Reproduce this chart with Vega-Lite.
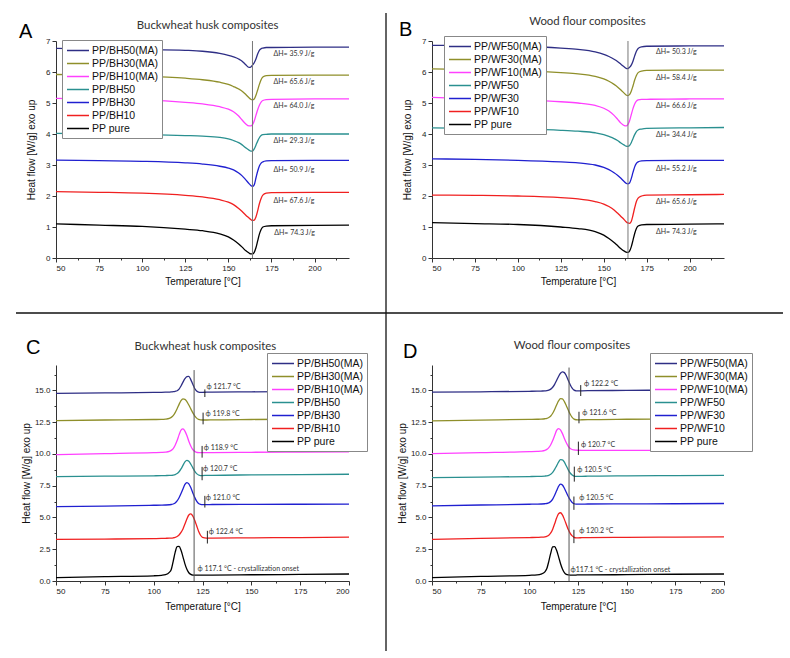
{
  "$schema": "https://vega.github.io/schema/vega-lite/v6.json",
  "padding": {"left": 15, "top": 12, "right": 5, "bottom": 5},
  "background": "white",
  "bounds": "flush",
  "columns": 2,
  "spacing": {"row": 107, "column": 83},
  "resolve": {"scale": {"x": "independent", "y": "independent", "color": "independent"}, "legend": {"color": "independent"}},
  "config": {
    "view": {"stroke": null},
    "font": "Liberation Sans",
    "axis": {"grid": false, "labelFont": "Liberation Sans", "labelFontSize": 8, "labelColor": "#222", "titleFont": "Liberation Sans", "titleFontSize": 10, "titleFontWeight": "normal", "titleColor": "#111", "domainColor": "#333", "tickColor": "#333", "labelPadding": 2, "labelOverlap": false},
    "legend": {"title": null, "orient": "none", "fillColor": "white", "strokeColor": "#888", "padding": 4, "symbolType": "M-1,0H3", "symbolSize": 121, "symbolStrokeWidth": 1.5, "labelOffset": 13, "labelFont": "Liberation Sans", "labelFontSize": 10.5, "labelColor": "#111", "rowPadding": 1, "labelLimit": 200}
  },
  "datasets": {
    "A": [
      {"t":50,"PP/BH50(MA)":6.76,"PP/BH30(MA)":5.92,"PP/BH10(MA)":5.15,"PP/BH50":4.02,"PP/BH30":3.16,"PP/BH10":2.14,"PP pure":1.10},
      {"t":75,"PP/BH50(MA)":6.75,"PP/BH30(MA)":5.90,"PP/BH10(MA)":5.13,"PP/BH50":4.01,"PP/BH30":3.14,"PP/BH10":2.12,"PP pure":1.06},
      {"t":100,"PP/BH50(MA)":6.73,"PP/BH30(MA)":5.87,"PP/BH10(MA)":5.10,"PP/BH50":3.99,"PP/BH30":3.12,"PP/BH10":2.09,"PP pure":1.02},
      {"t":125,"PP/BH50(MA)":6.70,"PP/BH30(MA)":5.80,"PP/BH10(MA)":5.02,"PP/BH50":3.95,"PP/BH30":3.07,"PP/BH10":2.02,"PP pure":0.93},
      {"t":135,"PP/BH50(MA)":6.67,"PP/BH30(MA)":5.75,"PP/BH10(MA)":4.97,"PP/BH50":3.93,"PP/BH30":3.03,"PP/BH10":1.97,"PP pure":0.88},
      {"t":145,"PP/BH50(MA)":6.60,"PP/BH30(MA)":5.67,"PP/BH10(MA)":4.88,"PP/BH50":3.89,"PP/BH30":2.96,"PP/BH10":1.88,"PP pure":0.78},
      {"t":150,"PP/BH50(MA)":6.54,"PP/BH30(MA)":5.60,"PP/BH10(MA)":4.80,"PP/BH50":3.84,"PP/BH30":2.90,"PP/BH10":1.80,"PP pure":0.68},
      {"t":153,"PP/BH50(MA)":6.49,"PP/BH30(MA)":5.53,"PP/BH10(MA)":4.72,"PP/BH50":3.79,"PP/BH30":2.84,"PP/BH10":1.72,"PP pure":0.58},
      {"t":156,"PP/BH50(MA)":6.42,"PP/BH30(MA)":5.45,"PP/BH10(MA)":4.58,"PP/BH50":3.72,"PP/BH30":2.74,"PP/BH10":1.60,"PP pure":0.45},
      {"t":158,"PP/BH50(MA)":6.35,"PP/BH30(MA)":5.38,"PP/BH10(MA)":4.45,"PP/BH50":3.65,"PP/BH30":2.65,"PP/BH10":1.50,"PP pure":0.35},
      {"t":160,"PP/BH50(MA)":6.24,"PP/BH30(MA)":5.28,"PP/BH10(MA)":4.33,"PP/BH50":3.56,"PP/BH30":2.53,"PP/BH10":1.39,"PP pure":0.24},
      {"t":162,"PP/BH50(MA)":6.15,"PP/BH30(MA)":5.17,"PP/BH10(MA)":4.26,"PP/BH50":3.48,"PP/BH30":2.40,"PP/BH10":1.29,"PP pure":0.16},
      {"t":163,"PP/BH50(MA)":6.16,"PP/BH30(MA)":5.12,"PP/BH10(MA)":4.26,"PP/BH50":3.45,"PP/BH30":2.34,"PP/BH10":1.24,"PP pure":0.13},
      {"t":164,"PP/BH50(MA)":6.22,"PP/BH30(MA)":5.10,"PP/BH10(MA)":4.30,"PP/BH50":3.45,"PP/BH30":2.31,"PP/BH10":1.21,"PP pure":0.13},
      {"t":165,"PP/BH50(MA)":6.30,"PP/BH30(MA)":5.13,"PP/BH10(MA)":4.42,"PP/BH50":3.52,"PP/BH30":2.36,"PP/BH10":1.22,"PP pure":0.18},
      {"t":166,"PP/BH50(MA)":6.42,"PP/BH30(MA)":5.25,"PP/BH10(MA)":4.60,"PP/BH50":3.64,"PP/BH30":2.58,"PP/BH10":1.32,"PP pure":0.33},
      {"t":167,"PP/BH50(MA)":6.58,"PP/BH30(MA)":5.42,"PP/BH10(MA)":4.78,"PP/BH50":3.77,"PP/BH30":2.80,"PP/BH10":1.52,"PP pure":0.55},
      {"t":168,"PP/BH50(MA)":6.70,"PP/BH30(MA)":5.60,"PP/BH10(MA)":4.93,"PP/BH50":3.88,"PP/BH30":2.97,"PP/BH10":1.75,"PP pure":0.77},
      {"t":169,"PP/BH50(MA)":6.75,"PP/BH30(MA)":5.75,"PP/BH10(MA)":5.03,"PP/BH50":3.95,"PP/BH30":3.06,"PP/BH10":1.92,"PP pure":0.92},
      {"t":170,"PP/BH50(MA)":6.77,"PP/BH30(MA)":5.84,"PP/BH10(MA)":5.08,"PP/BH50":3.98,"PP/BH30":3.10,"PP/BH10":2.03,"PP pure":1.00},
      {"t":172,"PP/BH50(MA)":6.79,"PP/BH30(MA)":5.88,"PP/BH10(MA)":5.11,"PP/BH50":3.99,"PP/BH30":3.13,"PP/BH10":2.09,"PP pure":1.03},
      {"t":175,"PP/BH50(MA)":6.79,"PP/BH30(MA)":5.89,"PP/BH10(MA)":5.12,"PP/BH50":4.00,"PP/BH30":3.14,"PP/BH10":2.11,"PP pure":1.04},
      {"t":200,"PP/BH50(MA)":6.80,"PP/BH30(MA)":5.90,"PP/BH10(MA)":5.13,"PP/BH50":4.00,"PP/BH30":3.15,"PP/BH10":2.12,"PP pure":1.05},
      {"t":220,"PP/BH50(MA)":6.80,"PP/BH30(MA)":5.90,"PP/BH10(MA)":5.13,"PP/BH50":4.00,"PP/BH30":3.15,"PP/BH10":2.12,"PP pure":1.06}
    ],
    "B": [
      {"t":50,"PP/WF50(MA)":6.86,"PP/WF30(MA)":6.10,"PP/WF10(MA)":5.18,"PP/WF50":4.20,"PP/WF30":3.20,"PP/WF10":2.03,"PP pure":1.14},
      {"t":75,"PP/WF50(MA)":6.85,"PP/WF30(MA)":6.08,"PP/WF10(MA)":5.14,"PP/WF50":4.18,"PP/WF30":3.18,"PP/WF10":2.02,"PP pure":1.11},
      {"t":100,"PP/WF50(MA)":6.83,"PP/WF30(MA)":6.05,"PP/WF10(MA)":5.10,"PP/WF50":4.16,"PP/WF30":3.15,"PP/WF10":2.00,"PP pure":1.08},
      {"t":125,"PP/WF50(MA)":6.77,"PP/WF30(MA)":5.98,"PP/WF10(MA)":5.04,"PP/WF50":4.12,"PP/WF30":3.10,"PP/WF10":1.95,"PP pure":1.00},
      {"t":135,"PP/WF50(MA)":6.73,"PP/WF30(MA)":5.94,"PP/WF10(MA)":5.00,"PP/WF50":4.09,"PP/WF30":3.07,"PP/WF10":1.91,"PP pure":0.95},
      {"t":145,"PP/WF50(MA)":6.65,"PP/WF30(MA)":5.86,"PP/WF10(MA)":4.92,"PP/WF50":4.04,"PP/WF30":3.00,"PP/WF10":1.82,"PP pure":0.85},
      {"t":150,"PP/WF50(MA)":6.57,"PP/WF30(MA)":5.78,"PP/WF10(MA)":4.83,"PP/WF50":3.98,"PP/WF30":2.92,"PP/WF10":1.74,"PP pure":0.74},
      {"t":153,"PP/WF50(MA)":6.50,"PP/WF30(MA)":5.70,"PP/WF10(MA)":4.74,"PP/WF50":3.92,"PP/WF30":2.85,"PP/WF10":1.66,"PP pure":0.63},
      {"t":156,"PP/WF50(MA)":6.41,"PP/WF30(MA)":5.60,"PP/WF10(MA)":4.60,"PP/WF50":3.85,"PP/WF30":2.75,"PP/WF10":1.55,"PP pure":0.50},
      {"t":158,"PP/WF50(MA)":6.34,"PP/WF30(MA)":5.52,"PP/WF10(MA)":4.48,"PP/WF50":3.79,"PP/WF30":2.67,"PP/WF10":1.45,"PP pure":0.40},
      {"t":160,"PP/WF50(MA)":6.25,"PP/WF30(MA)":5.42,"PP/WF10(MA)":4.35,"PP/WF50":3.71,"PP/WF30":2.57,"PP/WF10":1.34,"PP pure":0.30},
      {"t":162,"PP/WF50(MA)":6.16,"PP/WF30(MA)":5.31,"PP/WF10(MA)":4.27,"PP/WF50":3.64,"PP/WF30":2.46,"PP/WF10":1.23,"PP pure":0.22},
      {"t":163,"PP/WF50(MA)":6.12,"PP/WF30(MA)":5.26,"PP/WF10(MA)":4.26,"PP/WF50":3.61,"PP/WF30":2.41,"PP/WF10":1.17,"PP pure":0.19},
      {"t":164,"PP/WF50(MA)":6.11,"PP/WF30(MA)":5.24,"PP/WF10(MA)":4.30,"PP/WF50":3.60,"PP/WF30":2.39,"PP/WF10":1.13,"PP pure":0.18},
      {"t":165,"PP/WF50(MA)":6.15,"PP/WF30(MA)":5.27,"PP/WF10(MA)":4.42,"PP/WF50":3.63,"PP/WF30":2.42,"PP/WF10":1.12,"PP pure":0.22},
      {"t":166,"PP/WF50(MA)":6.22,"PP/WF30(MA)":5.38,"PP/WF10(MA)":4.62,"PP/WF50":3.72,"PP/WF30":2.56,"PP/WF10":1.18,"PP pure":0.36},
      {"t":167,"PP/WF50(MA)":6.35,"PP/WF30(MA)":5.55,"PP/WF10(MA)":4.82,"PP/WF50":3.85,"PP/WF30":2.76,"PP/WF10":1.38,"PP pure":0.57},
      {"t":168,"PP/WF50(MA)":6.52,"PP/WF30(MA)":5.74,"PP/WF10(MA)":4.97,"PP/WF50":3.98,"PP/WF30":2.94,"PP/WF10":1.62,"PP pure":0.79},
      {"t":169,"PP/WF50(MA)":6.67,"PP/WF30(MA)":5.89,"PP/WF10(MA)":5.06,"PP/WF50":4.08,"PP/WF30":3.05,"PP/WF10":1.82,"PP pure":0.95},
      {"t":170,"PP/WF50(MA)":6.76,"PP/WF30(MA)":5.98,"PP/WF10(MA)":5.10,"PP/WF50":4.13,"PP/WF30":3.10,"PP/WF10":1.93,"PP pure":1.03},
      {"t":172,"PP/WF50(MA)":6.81,"PP/WF30(MA)":6.03,"PP/WF10(MA)":5.12,"PP/WF50":4.16,"PP/WF30":3.13,"PP/WF10":2.00,"PP pure":1.07},
      {"t":175,"PP/WF50(MA)":6.83,"PP/WF30(MA)":6.05,"PP/WF10(MA)":5.12,"PP/WF50":4.18,"PP/WF30":3.14,"PP/WF10":2.03,"PP pure":1.08},
      {"t":200,"PP/WF50(MA)":6.84,"PP/WF30(MA)":6.06,"PP/WF10(MA)":5.13,"PP/WF50":4.20,"PP/WF30":3.15,"PP/WF10":2.04,"PP pure":1.09},
      {"t":220,"PP/WF50(MA)":6.84,"PP/WF30(MA)":6.06,"PP/WF10(MA)":5.13,"PP/WF50":4.21,"PP/WF30":3.15,"PP/WF10":2.05,"PP pure":1.10}
    ],
    "C": [
      {"t":50,"PP/BH50(MA)":14.76,"PP/BH30(MA)":12.63,"PP/BH10(MA)":9.95,"PP/BH50":8.22,"PP/BH30":5.85,"PP/BH10":3.27,"PP pure":0.27},
      {"t":75,"PP/BH50(MA)":14.80,"PP/BH30(MA)":12.67,"PP/BH10(MA)":10.02,"PP/BH50":8.25,"PP/BH30":5.90,"PP/BH10":3.30,"PP pure":0.34},
      {"t":100,"PP/BH50(MA)":14.84,"PP/BH30(MA)":12.71,"PP/BH10(MA)":10.10,"PP/BH50":8.28,"PP/BH30":5.96,"PP/BH10":3.34,"PP pure":0.41},
      {"t":104,"PP/BH50(MA)":14.85,"PP/BH30(MA)":12.72,"PP/BH10(MA)":10.12,"PP/BH50":8.29,"PP/BH30":5.97,"PP/BH10":3.35,"PP pure":0.45},
      {"t":106,"PP/BH50(MA)":14.86,"PP/BH30(MA)":12.74,"PP/BH10(MA)":10.14,"PP/BH50":8.30,"PP/BH30":5.98,"PP/BH10":3.36,"PP pure":0.50},
      {"t":108,"PP/BH50(MA)":14.87,"PP/BH30(MA)":12.80,"PP/BH10(MA)":10.20,"PP/BH50":8.31,"PP/BH30":6.00,"PP/BH10":3.37,"PP pure":0.68},
      {"t":109,"PP/BH50(MA)":14.88,"PP/BH30(MA)":12.88,"PP/BH10(MA)":10.28,"PP/BH50":8.32,"PP/BH30":6.02,"PP/BH10":3.38,"PP pure":0.90},
      {"t":110,"PP/BH50(MA)":14.90,"PP/BH30(MA)":13.02,"PP/BH10(MA)":10.42,"PP/BH50":8.34,"PP/BH30":6.06,"PP/BH10":3.40,"PP pure":1.55},
      {"t":111,"PP/BH50(MA)":14.93,"PP/BH30(MA)":13.25,"PP/BH10(MA)":10.68,"PP/BH50":8.38,"PP/BH30":6.14,"PP/BH10":3.43,"PP pure":2.25},
      {"t":112,"PP/BH50(MA)":14.97,"PP/BH30(MA)":13.55,"PP/BH10(MA)":11.05,"PP/BH50":8.46,"PP/BH30":6.30,"PP/BH10":3.50,"PP pure":2.70},
      {"t":113,"PP/BH50(MA)":15.10,"PP/BH30(MA)":13.90,"PP/BH10(MA)":11.50,"PP/BH50":8.60,"PP/BH30":6.55,"PP/BH10":3.62,"PP pure":2.72},
      {"t":114,"PP/BH50(MA)":15.35,"PP/BH30(MA)":14.20,"PP/BH10(MA)":11.88,"PP/BH50":8.82,"PP/BH30":6.88,"PP/BH10":3.82,"PP pure":2.42},
      {"t":115,"PP/BH50(MA)":15.65,"PP/BH30(MA)":14.34,"PP/BH10(MA)":11.97,"PP/BH50":9.10,"PP/BH30":7.25,"PP/BH10":4.10,"PP pure":1.90},
      {"t":116,"PP/BH50(MA)":15.92,"PP/BH30(MA)":14.30,"PP/BH10(MA)":11.80,"PP/BH50":9.38,"PP/BH30":7.60,"PP/BH10":4.48,"PP pure":1.35},
      {"t":117,"PP/BH50(MA)":16.08,"PP/BH30(MA)":14.12,"PP/BH10(MA)":11.45,"PP/BH50":9.50,"PP/BH30":7.75,"PP/BH10":4.88,"PP pure":0.92},
      {"t":118,"PP/BH50(MA)":16.10,"PP/BH30(MA)":13.85,"PP/BH10(MA)":11.00,"PP/BH50":9.42,"PP/BH30":7.65,"PP/BH10":5.20,"PP pure":0.65},
      {"t":119,"PP/BH50(MA)":15.85,"PP/BH30(MA)":13.55,"PP/BH10(MA)":10.62,"PP/BH50":9.20,"PP/BH30":7.35,"PP/BH10":5.28,"PP pure":0.52},
      {"t":120,"PP/BH50(MA)":15.50,"PP/BH30(MA)":13.25,"PP/BH10(MA)":10.35,"PP/BH50":8.92,"PP/BH30":6.95,"PP/BH10":5.12,"PP pure":0.47},
      {"t":121,"PP/BH50(MA)":15.15,"PP/BH30(MA)":13.00,"PP/BH10(MA)":10.20,"PP/BH50":8.65,"PP/BH30":6.58,"PP/BH10":4.78,"PP pure":0.46},
      {"t":122,"PP/BH50(MA)":14.95,"PP/BH30(MA)":12.82,"PP/BH10(MA)":10.13,"PP/BH50":8.45,"PP/BH30":6.28,"PP/BH10":4.35,"PP pure":0.46},
      {"t":123,"PP/BH50(MA)":14.87,"PP/BH30(MA)":12.72,"PP/BH10(MA)":10.11,"PP/BH50":8.34,"PP/BH30":6.10,"PP/BH10":3.92,"PP pure":0.46},
      {"t":124,"PP/BH50(MA)":14.85,"PP/BH30(MA)":12.68,"PP/BH10(MA)":10.10,"PP/BH50":8.30,"PP/BH30":6.03,"PP/BH10":3.60,"PP pure":0.46},
      {"t":125,"PP/BH50(MA)":14.85,"PP/BH30(MA)":12.67,"PP/BH10(MA)":10.10,"PP/BH50":8.30,"PP/BH30":6.01,"PP/BH10":3.44,"PP pure":0.47},
      {"t":127,"PP/BH50(MA)":14.86,"PP/BH30(MA)":12.67,"PP/BH10(MA)":10.10,"PP/BH50":8.31,"PP/BH30":6.01,"PP/BH10":3.38,"PP pure":0.47},
      {"t":130,"PP/BH50(MA)":14.87,"PP/BH30(MA)":12.68,"PP/BH10(MA)":10.11,"PP/BH50":8.32,"PP/BH30":6.02,"PP/BH10":3.38,"PP pure":0.47},
      {"t":150,"PP/BH50(MA)":14.89,"PP/BH30(MA)":12.71,"PP/BH10(MA)":10.13,"PP/BH50":8.35,"PP/BH30":6.03,"PP/BH10":3.40,"PP pure":0.49},
      {"t":175,"PP/BH50(MA)":14.92,"PP/BH30(MA)":12.74,"PP/BH10(MA)":10.15,"PP/BH50":8.38,"PP/BH30":6.04,"PP/BH10":3.42,"PP pure":0.52},
      {"t":200,"PP/BH50(MA)":14.95,"PP/BH30(MA)":12.77,"PP/BH10(MA)":10.17,"PP/BH50":8.40,"PP/BH30":6.05,"PP/BH10":3.45,"PP pure":0.55}
    ],
    "D": [
      {"t":50,"PP/WF50(MA)":14.86,"PP/WF30(MA)":12.60,"PP/WF10(MA)":10.03,"PP/WF50":8.13,"PP/WF30":5.92,"PP/WF10":3.28,"PP pure":0.26},
      {"t":75,"PP/WF50(MA)":14.89,"PP/WF30(MA)":12.66,"PP/WF10(MA)":10.10,"PP/WF50":8.18,"PP/WF30":5.98,"PP/WF10":3.35,"PP pure":0.36},
      {"t":100,"PP/WF50(MA)":14.93,"PP/WF30(MA)":12.72,"PP/WF10(MA)":10.18,"PP/WF50":8.22,"PP/WF30":6.04,"PP/WF10":3.42,"PP pure":0.45},
      {"t":104,"PP/WF50(MA)":14.94,"PP/WF30(MA)":12.73,"PP/WF10(MA)":10.20,"PP/WF50":8.23,"PP/WF30":6.05,"PP/WF10":3.43,"PP pure":0.48},
      {"t":106,"PP/WF50(MA)":14.95,"PP/WF30(MA)":12.74,"PP/WF10(MA)":10.22,"PP/WF50":8.24,"PP/WF30":6.06,"PP/WF10":3.45,"PP pure":0.54},
      {"t":108,"PP/WF50(MA)":14.96,"PP/WF30(MA)":12.77,"PP/WF10(MA)":10.28,"PP/WF50":8.26,"PP/WF30":6.08,"PP/WF10":3.48,"PP pure":0.72},
      {"t":109,"PP/WF50(MA)":14.98,"PP/WF30(MA)":12.80,"PP/WF10(MA)":10.36,"PP/WF50":8.28,"PP/WF30":6.10,"PP/WF10":3.52,"PP pure":0.98},
      {"t":110,"PP/WF50(MA)":15.02,"PP/WF30(MA)":12.87,"PP/WF10(MA)":10.50,"PP/WF50":8.32,"PP/WF30":6.15,"PP/WF10":3.60,"PP pure":1.55},
      {"t":111,"PP/WF50(MA)":15.10,"PP/WF30(MA)":12.99,"PP/WF10(MA)":10.72,"PP/WF50":8.40,"PP/WF30":6.25,"PP/WF10":3.78,"PP pure":2.20},
      {"t":112,"PP/WF50(MA)":15.25,"PP/WF30(MA)":13.20,"PP/WF10(MA)":11.05,"PP/WF50":8.55,"PP/WF30":6.45,"PP/WF10":4.08,"PP pure":2.68},
      {"t":113,"PP/WF50(MA)":15.48,"PP/WF30(MA)":13.50,"PP/WF10(MA)":11.45,"PP/WF50":8.78,"PP/WF30":6.75,"PP/WF10":4.50,"PP pure":2.70},
      {"t":114,"PP/WF50(MA)":15.78,"PP/WF30(MA)":13.85,"PP/WF10(MA)":11.85,"PP/WF50":9.06,"PP/WF30":7.10,"PP/WF10":4.95,"PP pure":2.42},
      {"t":115,"PP/WF50(MA)":16.10,"PP/WF30(MA)":14.17,"PP/WF10(MA)":12.00,"PP/WF50":9.35,"PP/WF30":7.45,"PP/WF10":5.30,"PP pure":1.92},
      {"t":116,"PP/WF50(MA)":16.35,"PP/WF30(MA)":14.35,"PP/WF10(MA)":11.90,"PP/WF50":9.55,"PP/WF30":7.63,"PP/WF10":5.37,"PP pure":1.38},
      {"t":117,"PP/WF50(MA)":16.46,"PP/WF30(MA)":14.33,"PP/WF10(MA)":11.60,"PP/WF50":9.54,"PP/WF30":7.55,"PP/WF10":5.20,"PP pure":0.95},
      {"t":118,"PP/WF50(MA)":16.40,"PP/WF30(MA)":14.12,"PP/WF10(MA)":11.22,"PP/WF50":9.35,"PP/WF30":7.30,"PP/WF10":4.85,"PP pure":0.66},
      {"t":119,"PP/WF50(MA)":16.15,"PP/WF30(MA)":13.80,"PP/WF10(MA)":10.88,"PP/WF50":9.05,"PP/WF30":6.98,"PP/WF10":4.45,"PP pure":0.52},
      {"t":120,"PP/WF50(MA)":15.80,"PP/WF30(MA)":13.45,"PP/WF10(MA)":10.60,"PP/WF50":8.75,"PP/WF30":6.65,"PP/WF10":4.05,"PP pure":0.48},
      {"t":121,"PP/WF50(MA)":15.45,"PP/WF30(MA)":13.12,"PP/WF10(MA)":10.43,"PP/WF50":8.50,"PP/WF30":6.38,"PP/WF10":3.75,"PP pure":0.47},
      {"t":122,"PP/WF50(MA)":15.18,"PP/WF30(MA)":12.88,"PP/WF10(MA)":10.35,"PP/WF50":8.34,"PP/WF30":6.18,"PP/WF10":3.55,"PP pure":0.47},
      {"t":123,"PP/WF50(MA)":15.02,"PP/WF30(MA)":12.74,"PP/WF10(MA)":10.32,"PP/WF50":8.26,"PP/WF30":6.08,"PP/WF10":3.44,"PP pure":0.47},
      {"t":124,"PP/WF50(MA)":14.97,"PP/WF30(MA)":12.69,"PP/WF10(MA)":10.30,"PP/WF50":8.24,"PP/WF30":6.05,"PP/WF10":3.40,"PP pure":0.47},
      {"t":125,"PP/WF50(MA)":14.96,"PP/WF30(MA)":12.68,"PP/WF10(MA)":10.29,"PP/WF50":8.24,"PP/WF30":6.05,"PP/WF10":3.40,"PP pure":0.48},
      {"t":127,"PP/WF50(MA)":14.97,"PP/WF30(MA)":12.69,"PP/WF10(MA)":10.28,"PP/WF50":8.24,"PP/WF30":6.05,"PP/WF10":3.41,"PP pure":0.48},
      {"t":130,"PP/WF50(MA)":14.98,"PP/WF30(MA)":12.70,"PP/WF10(MA)":10.28,"PP/WF50":8.25,"PP/WF30":6.06,"PP/WF10":3.42,"PP pure":0.48},
      {"t":150,"PP/WF50(MA)":15.00,"PP/WF30(MA)":12.73,"PP/WF10(MA)":10.28,"PP/WF50":8.28,"PP/WF30":6.07,"PP/WF10":3.44,"PP pure":0.50},
      {"t":175,"PP/WF50(MA)":15.03,"PP/WF30(MA)":12.75,"PP/WF10(MA)":10.29,"PP/WF50":8.30,"PP/WF30":6.08,"PP/WF10":3.46,"PP pure":0.53},
      {"t":200,"PP/WF50(MA)":15.05,"PP/WF30(MA)":12.78,"PP/WF10(MA)":10.30,"PP/WF50":8.32,"PP/WF30":6.10,"PP/WF10":3.48,"PP pure":0.55}
    ],
    "Aann": [
      {"t":176.2,"v":6.57,"label":"ΔH= 35.9 J/g"},
      {"t":176.2,"v":5.68,"label":"ΔH= 65.6 J/g"},
      {"t":176.2,"v":4.89,"label":"ΔH= 64.0 J/g"},
      {"t":176.2,"v":3.76,"label":"ΔH= 29.3 J/g"},
      {"t":176.2,"v":2.83,"label":"ΔH= 50.9 J/g"},
      {"t":176.2,"v":1.83,"label":"ΔH= 67.6 J/g"},
      {"t":176.6,"v":0.82,"label":"ΔH= 74.3 J/g"}
    ],
    "Bann": [
      {"t":180.4,"v":6.63,"label":"ΔH= 50.3 J/g"},
      {"t":180.4,"v":5.81,"label":"ΔH= 58.4 J/g"},
      {"t":180.4,"v":4.91,"label":"ΔH= 66.6 J/g"},
      {"t":180.4,"v":3.96,"label":"ΔH= 34.4 J/g"},
      {"t":180.4,"v":2.88,"label":"ΔH= 55.2 J/g"},
      {"t":180.4,"v":1.80,"label":"ΔH= 65.6 J/g"},
      {"t":180.4,"v":0.85,"label":"ΔH= 74.3 J/g"}
    ],
    "Cann": [
      {"t":127.0,"v":15.26,"label":"ϕ 121.7 °C"},
      {"t":126.5,"v":13.17,"label":"ϕ 119.8 °C"},
      {"t":125.6,"v":10.45,"label":"ϕ 118.9 °C"},
      {"t":125.3,"v":8.80,"label":"ϕ 120.7 °C"},
      {"t":126.7,"v":6.52,"label":"ϕ 121.0 °C"},
      {"t":128.2,"v":3.82,"label":"ϕ 122.4 °C"},
      {"t":122.4,"v":0.94,"label":"ϕ 117.1 °C - crystallization onset"}
    ],
    "Ctick": [
      {"t":126.2,"v1":15.08,"v2":14.48},
      {"t":125.3,"v1":13.25,"v2":12.33},
      {"t":124.8,"v1":10.63,"v2":9.71},
      {"t":124.8,"v1":8.98,"v2":7.93},
      {"t":126.2,"v1":6.70,"v2":5.78},
      {"t":127.5,"v1":3.95,"v2":2.95}
    ],
    "Dann": [
      {"t":128.1,"v":15.5,"label":"ϕ 122.2 °C"},
      {"t":127.2,"v":13.25,"label":"ϕ 121.6 °C"},
      {"t":126.5,"v":10.7,"label":"ϕ 120.7 °C"},
      {"t":124.6,"v":8.74,"label":"ϕ 120.5 °C"},
      {"t":125.6,"v":6.52,"label":"ϕ 120.5 °C"},
      {"t":125.6,"v":3.9,"label":"ϕ 120.2 °C"},
      {"t":121.2,"v":0.83,"label":"ϕ117.1 °C - crystallization onset"}
    ],
    "Dtick": [
      {"t":126.4,"v1":15.42,"v2":14.56},
      {"t":125.5,"v1":13.32,"v2":12.41},
      {"t":125.2,"v1":10.97,"v2":9.92},
      {"t":123.1,"v1":9.0,"v2":7.82},
      {"t":122.9,"v1":6.65,"v2":5.6},
      {"t":122.9,"v1":4.03,"v2":2.98}
    ]
  },
  "concat": [
    {
      "width": 293, "height": 217,
      "layer": [
        {
          "data": {"name": "A"},
          "transform": [{"fold": ["PP/BH50(MA)","PP/BH30(MA)","PP/BH10(MA)","PP/BH50","PP/BH30","PP/BH10","PP pure"], "as": ["s","v"]}],
          "mark": {"type": "line", "strokeWidth": 1.3, "interpolate": "monotone"},
          "encoding": {
            "x": {"field": "t", "type": "quantitative", "scale": {"domain": [50,220], "nice": false, "zero": false}, "axis": {"title": "Temperature [°C]", "tickCount": 100, "values": [50,62.5,75,87.5,100,112.5,125,137.5,150,162.5,175,187.5,200,212.5], "labelExpr": "datum.value % 25 === 0 ? datum.label : ''", "tickSize": {"condition": {"test": "datum.value % 25 === 0", "value": 4}, "value": 2}}},
            "y": {"field": "v", "type": "quantitative", "scale": {"domain": [0,7], "nice": false}, "axis": {"title": "Heat flow [W/g] exo up", "tickCount": 100, "format": "d", "values": [0,0.5,1,1.5,2,2.5,3,3.5,4,4.5,5,5.5,6,6.5,7], "labelExpr": "datum.value % 1 === 0 ? datum.label : ''", "tickSize": {"condition": {"test": "datum.value % 1 === 0", "value": 4}, "value": 2}, "titlePadding": 9}},
            "color": {"field": "s", "type": "nominal", "sort": null,
              "scale": {"domain": ["PP/BH50(MA)","PP/BH30(MA)","PP/BH10(MA)","PP/BH50","PP/BH30","PP/BH10","PP pure"], "range": ["#2e2e85","#8f8f2a","#ff40ff","#2a9090","#2020d0","#f02020","#000000"]},
              "legend": {"legendX": 6, "legendY": -1}}
          }
        },
        {"data": {"values": [{}]}, "mark": {"type": "rule", "color": "#777", "strokeWidth": 1}, "encoding": {"x": {"datum": 164}}},
        {"data": {"name": "Aann"}, "mark": {"type": "text", "align": "left", "baseline": "middle", "font": "Lato", "fontSize": 7, "color": "#333"}, "encoding": {"x": {"field": "t", "type": "quantitative"}, "y": {"field": "v", "type": "quantitative"}, "text": {"field": "label"}}},
        {"data": {"values": [{}]}, "mark": {"type": "text", "text": "A", "font": "Liberation Sans", "fontSize": 20, "align": "left", "baseline": "alphabetic", "color": "#000"}, "encoding": {"x": {"datum": 28.53}, "y": {"datum": 7.097}}},
        {"data": {"values": [{}]}, "mark": {"type": "text", "text": "Buckwheat husk composites", "font": "Lato", "fontSize": 11.4, "align": "center", "baseline": "alphabetic", "color": "#333"}, "encoding": {"x": {"datum": 138.0}, "y": {"datum": 7.387}}},
        {"data": {"values": [{}]}, "mark": {"type": "rule", "color": "#111", "strokeWidth": 1.3}, "encoding": {"x": {"datum": 241.47}, "y": {"datum": 7.903}, "y2": {"datum": -12.677}}},
        {"data": {"values": [{}]}, "mark": {"type": "rule", "color": "#111", "strokeWidth": 1.3}, "encoding": {"y": {"datum": -1.774}, "x": {"datum": 26.79}, "x2": {"datum": 471.8}}}
      ]
    },
    {
      "width": 292, "height": 217,
      "layer": [
        {
          "data": {"name": "B"},
          "transform": [{"fold": ["PP/WF50(MA)","PP/WF30(MA)","PP/WF10(MA)","PP/WF50","PP/WF30","PP/WF10","PP pure"], "as": ["s","v"]}],
          "mark": {"type": "line", "strokeWidth": 1.3, "interpolate": "monotone"},
          "encoding": {
            "x": {"field": "t", "type": "quantitative", "scale": {"domain": [50,220], "nice": false, "zero": false}, "axis": {"title": "Temperature [°C]", "tickCount": 100, "values": [50,62.5,75,87.5,100,112.5,125,137.5,150,162.5,175,187.5,200,212.5], "labelExpr": "datum.value % 25 === 0 ? datum.label : ''", "tickSize": {"condition": {"test": "datum.value % 25 === 0", "value": 4}, "value": 2}}},
            "y": {"field": "v", "type": "quantitative", "scale": {"domain": [0,7], "nice": false}, "axis": {"title": "Heat flow [W/g] exo up", "tickCount": 100, "format": "d", "values": [0,0.5,1,1.5,2,2.5,3,3.5,4,4.5,5,5.5,6,6.5,7], "labelExpr": "datum.value % 1 === 0 ? datum.label : ''", "tickSize": {"condition": {"test": "datum.value % 1 === 0", "value": 4}, "value": 2}, "titlePadding": 9}},
            "color": {"field": "s", "type": "nominal", "sort": null,
              "scale": {"domain": ["PP/WF50(MA)","PP/WF30(MA)","PP/WF10(MA)","PP/WF50","PP/WF30","PP/WF10","PP pure"], "range": ["#2e2e85","#8f8f2a","#ff40ff","#2a9090","#2020d0","#f02020","#000000"]},
              "legend": {"legendX": 12, "legendY": -5}}
          }
        },
        {"data": {"values": [{}]}, "mark": {"type": "rule", "color": "#777", "strokeWidth": 1}, "encoding": {"x": {"datum": 164.1}}},
        {"data": {"name": "Bann"}, "mark": {"type": "text", "align": "left", "baseline": "middle", "font": "Lato", "fontSize": 7, "color": "#333"}, "encoding": {"x": {"field": "t", "type": "quantitative"}, "y": {"field": "v", "type": "quantitative"}, "text": {"field": "label"}}},
        {"data": {"values": [{}]}, "mark": {"type": "text", "text": "B", "font": "Liberation Sans", "fontSize": 20, "align": "left", "baseline": "alphabetic", "color": "#000"}, "encoding": {"x": {"datum": 30.79}, "y": {"datum": 7.161}}},
        {"data": {"values": [{}]}, "mark": {"type": "text", "text": "Wood flour composites", "font": "Lato", "fontSize": 11.4, "align": "center", "baseline": "alphabetic", "color": "#333"}, "encoding": {"x": {"datum": 140.5}, "y": {"datum": 7.506}}}
      ]
    },
    {
      "width": 293, "height": 216,
      "layer": [
        {
          "data": {"name": "C"},
          "transform": [{"fold": ["PP/BH50(MA)","PP/BH30(MA)","PP/BH10(MA)","PP/BH50","PP/BH30","PP/BH10","PP pure"], "as": ["s","v"]}],
          "mark": {"type": "line", "strokeWidth": 1.3, "interpolate": "monotone"},
          "encoding": {
            "x": {"field": "t", "type": "quantitative", "scale": {"domain": [50,200], "nice": false, "zero": false}, "axis": {"title": "Temperature [°C]", "tickCount": 100, "values": [50,62.5,75,87.5,100,112.5,125,137.5,150,162.5,175,187.5,200], "labelExpr": "datum.value % 25 === 0 ? datum.label : ''", "tickSize": {"condition": {"test": "datum.value % 25 === 0", "value": 4}, "value": 2}, "titlePadding": 6}},
            "y": {"field": "v", "type": "quantitative", "scale": {"domain": [0,17], "nice": false}, "axis": {"title": "Heat flow [W/g] exo up", "tickCount": 100, "values": [0,1.25,2.5,3.75,5,6.25,7.5,8.75,10,11.25,12.5,13.75,15,16.25], "format": ".1f", "labelExpr": "datum.value % 2.5 === 0 ? datum.label : ''", "tickSize": {"condition": {"test": "datum.value % 2.5 === 0", "value": 4}, "value": 2}, "titlePadding": 3}},
            "color": {"field": "s", "type": "nominal", "sort": null,
              "scale": {"domain": ["PP/BH50(MA)","PP/BH30(MA)","PP/BH10(MA)","PP/BH50","PP/BH30","PP/BH10","PP pure"], "range": ["#2e2e85","#8f8f2a","#ff40ff","#2a9090","#2020d0","#f02020","#000000"]},
              "legend": {"legendX": 211, "legendY": -12}}
          }
        },
        {"data": {"values": [{}]}, "mark": {"type": "rule", "color": "#555", "strokeWidth": 1}, "encoding": {"x": {"datum": 120.7}, "y": {"datum": 0}, "y2": {"datum": 16.6}}},
        {"data": {"name": "Ctick"}, "mark": {"type": "rule", "color": "#222", "strokeWidth": 1}, "encoding": {"x": {"field": "t", "type": "quantitative"}, "y": {"field": "v1", "type": "quantitative"}, "y2": {"field": "v2"}}},
        {"data": {"name": "Cann"}, "mark": {"type": "text", "align": "left", "baseline": "middle", "font": "Lato", "fontSize": 7, "color": "#333"}, "encoding": {"x": {"field": "t", "type": "quantitative"}, "y": {"field": "v", "type": "quantitative"}, "text": {"field": "label"}}},
        {"data": {"values": [{}]}, "mark": {"type": "text", "text": "C", "font": "Liberation Sans", "fontSize": 20, "align": "left", "baseline": "alphabetic", "color": "#000"}, "encoding": {"x": {"datum": 34.64}, "y": {"datum": 17.866}}},
        {"data": {"values": [{}]}, "mark": {"type": "text", "text": "Buckwheat husk composites", "font": "Lato", "fontSize": 11.4, "align": "center", "baseline": "alphabetic", "color": "#333"}, "encoding": {"x": {"datum": 126.5}, "y": {"datum": 18.157}}}
      ]
    },
    {
      "width": 292, "height": 216,
      "layer": [
        {
          "data": {"name": "D"},
          "transform": [{"fold": ["PP/WF50(MA)","PP/WF30(MA)","PP/WF10(MA)","PP/WF50","PP/WF30","PP/WF10","PP pure"], "as": ["s","v"]}],
          "mark": {"type": "line", "strokeWidth": 1.3, "interpolate": "monotone"},
          "encoding": {
            "x": {"field": "t", "type": "quantitative", "scale": {"domain": [50,200], "nice": false, "zero": false}, "axis": {"title": "Temperature [°C]", "tickCount": 100, "values": [50,62.5,75,87.5,100,112.5,125,137.5,150,162.5,175,187.5,200], "labelExpr": "datum.value % 25 === 0 ? datum.label : ''", "tickSize": {"condition": {"test": "datum.value % 25 === 0", "value": 4}, "value": 2}, "titlePadding": 6}},
            "y": {"field": "v", "type": "quantitative", "scale": {"domain": [0,17], "nice": false}, "axis": {"title": "Heat flow [W/g] exo up", "tickCount": 100, "values": [0,1.25,2.5,3.75,5,6.25,7.5,8.75,10,11.25,12.5,13.75,15,16.25], "format": ".1f", "labelExpr": "datum.value % 2.5 === 0 ? datum.label : ''", "tickSize": {"condition": {"test": "datum.value % 2.5 === 0", "value": 4}, "value": 2}, "titlePadding": 3}},
            "color": {"field": "s", "type": "nominal", "sort": null,
              "scale": {"domain": ["PP/WF50(MA)","PP/WF30(MA)","PP/WF10(MA)","PP/WF50","PP/WF30","PP/WF10","PP pure"], "range": ["#2e2e85","#8f8f2a","#ff40ff","#2a9090","#2020d0","#f02020","#000000"]},
              "legend": {"legendX": 218, "legendY": -12}}
          }
        },
        {"data": {"values": [{}]}, "mark": {"type": "rule", "color": "#555", "strokeWidth": 1}, "encoding": {"x": {"datum": 120.4}, "y": {"datum": 0}, "y2": {"datum": 16.8}}},
        {"data": {"name": "Dtick"}, "mark": {"type": "rule", "color": "#222", "strokeWidth": 1}, "encoding": {"x": {"field": "t", "type": "quantitative"}, "y": {"field": "v1", "type": "quantitative"}, "y2": {"field": "v2"}}},
        {"data": {"name": "Dann"}, "mark": {"type": "text", "align": "left", "baseline": "middle", "font": "Lato", "fontSize": 7, "color": "#333"}, "encoding": {"x": {"field": "t", "type": "quantitative"}, "y": {"field": "v", "type": "quantitative"}, "text": {"field": "label"}}},
        {"data": {"values": [{}]}, "mark": {"type": "text", "text": "D", "font": "Liberation Sans", "fontSize": 20, "align": "left", "baseline": "alphabetic", "color": "#000"}, "encoding": {"x": {"datum": 35.1}, "y": {"datum": 17.55}}},
        {"data": {"values": [{}]}, "mark": {"type": "text", "text": "Wood flour composites", "font": "Lato", "fontSize": 11.4, "align": "center", "baseline": "alphabetic", "color": "#333"}, "encoding": {"x": {"datum": 121.9}, "y": {"datum": 18.236}}}
      ]
    }
  ]
}
